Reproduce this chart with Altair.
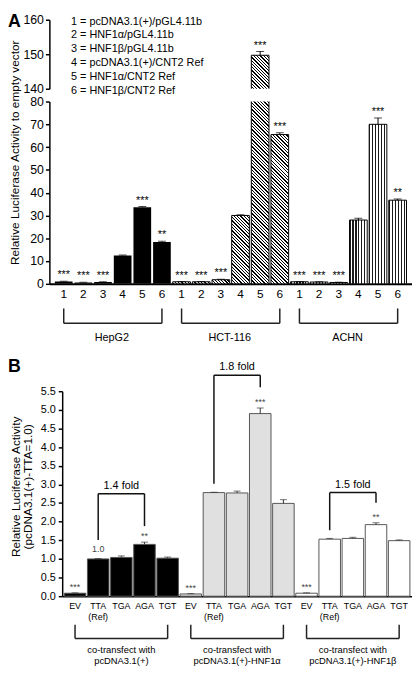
import altair as alt
import pandas as pd

FONT = "Liberation Sans"

# ---------------- Panel A values ----------------
cell_lines = ["HepG2", "HCT-116", "ACHN"]
constructs = ["1", "2", "3", "4", "5", "6"]
hepg2_vals = [1.0, 0.6, 0.8, 12.4, 33.6, 18.4]
hepg2_errs = [0.1, 0.1, 0.1, 0.2, 0.3, 0.3]
hepg2_sig = ["***", "***", "***", "", "***", "**"]
hct116_vals = [0.9, 0.9, 1.8, 30.0, 149.7, 65.5]
hct116_errs = [0.1, 0.1, 0.2, 0.3, 1.1, 0.8]
hct116_sig = ["***", "***", "***", "", "***", "***"]
achn_vals = [0.9, 0.8, 0.6, 28.0, 70.0, 36.7]
achn_errs = [0.1, 0.1, 0.1, 0.8, 2.8, 0.5]
achn_sig = ["***", "***", "***", "", "***", "**"]
legend_lines = [
    "1 = pcDNA3.1(+)/pGL4.11b",
    "2 = HNF1\u03b1/pGL4.11b",
    "3 = HNF1\u03b2/pGL4.11b",
    "4 = pcDNA3.1(+)/CNT2 Ref",
    "5 = HNF1\u03b1/CNT2 Ref",
    "6 = HNF1\u03b2/CNT2 Ref",
]
y_title_A = "Relative Luciferase Activity to empty vector"
upper_domain = [140, 160]
upper_ticks = [140, 150, 160]
lower_domain = [0, 80]
lower_ticks = [0, 10, 20, 30, 40, 50, 60, 70, 80]

# ---------------- Panel B values ----------------
transfections = ["pcDNA3.1(+)", "pcDNA3.1(+)-HNF1\u03b1", "pcDNA3.1(+)-HNF1\u03b2"]
codon_labels = ["EV", "TTA|(Ref)", "TGA", "AGA", "TGT"]
b_empty_vals = [0.08, 1.00, 1.04, 1.39, 1.02]
b_empty_errs = [0.01, 0.01, 0.04, 0.06, 0.03]
b_empty_sig = ["***", "", "", "**", ""]
b_empty_note = ["", "1.0", "", "", ""]
b_hnf1a_vals = [0.06, 2.78, 2.77, 4.90, 2.49]
b_hnf1a_errs = [0.01, 0.01, 0.05, 0.15, 0.10]
b_hnf1a_sig = ["***", "", "", "***", ""]
b_hnf1b_vals = [0.08, 1.53, 1.55, 1.92, 1.49]
b_hnf1b_errs = [0.01, 0.02, 0.03, 0.05, 0.02]
b_hnf1b_sig = ["***", "", "", "**", ""]
b_fills = ["black", "#e0e0e0", "white"]
b_ticks = [0.0, 0.5, 1.0, 1.5, 2.0, 2.5, 3.0, 3.5, 4.0, 4.5, 5.0, 5.5]
b_domain = [0, 5.5]
y_title_B = ["Relative Luciferase Activity", "(pcDNA3.1(+)-TTA=1.0)"]
fold_labels = ["1.4 fold", "1.8 fold", "1.5 fold"]
fold_top = [2.75, 5.93, 2.78]
fold_left_bottom = [1.51, 3.02, 1.77]
fold_right_bottom = [1.88, 5.61, 2.51]

# ---------------- layout (sizes / styles only) ----------------
W = 368
H_UP, H_LO, GAP = 70, 185, 13
B_TOP, H_B = 96, 304
PI_A, PO_A = 0.1, 0.28
stepA = W / (18 - PI_A + 2 * PO_A)
bwA = stepA * (1 - PI_A)
PPU_UP = H_UP / (upper_domain[1] - upper_domain[0])
PPU_LO = H_LO / (lower_domain[1] - lower_domain[0])


def stripe_stops(n, frac, ink="black", paper="white"):
    stops = []
    for k in range(n):
        a, b, c = k / n, (k + frac) / n, (k + 1) / n
        stops += [
            {"offset": round(a, 5), "color": ink},
            {"offset": round(b, 5), "color": ink},
            {"offset": round(b, 5), "color": paper},
            {"offset": round(min(c, 1.0), 5), "color": paper},
        ]
    return stops


def vstripes():
    return {"gradient": "linear", "x1": 0, "y1": 0, "x2": 1, "y2": 0,
            "stops": stripe_stops(6, 0.38, ink="#1a1a1a")}


def diag_fill(w, h, period=3.4, frac=0.4):
    n = max(1, round((w + h) / period))
    s = (w + h) / (w * w + h * h)
    return {"gradient": "linear",
            "x1": round(0.5 - s * w / 2, 5), "y1": round(0.5 + s * h / 2, 5),
            "x2": round(0.5 + s * w / 2, 5), "y2": round(0.5 - s * h / 2, 5),
            "stops": stripe_stops(n, frac)}


def one_row():
    return alt.Chart(pd.DataFrame({"t": [0]}))


# ---------------- Panel A table ----------------
rowsA = []
for line, vals, errs, sigs in zip(cell_lines,
                                  [hepg2_vals, hct116_vals, achn_vals],
                                  [hepg2_errs, hct116_errs, achn_errs],
                                  [hepg2_sig, hct116_sig, achn_sig]):
    for c, v, e, s in zip(constructs, vals, errs, sigs):
        rowsA.append(dict(key=f"{line}|{c}", line=line, value=v, top=v + e, sig=s))
dfA = pd.DataFrame(rowsA)
keysA = list(dfA["key"])

xscaleA = alt.Scale(domain=keysA, paddingInner=PI_A, paddingOuter=PO_A)
axis_xA = alt.Axis(labelExpr="split(datum.value, '|')[1]", labelAngle=0, ticks=False,
                   domainWidth=2, domainColor="black", labelFontSize=12, labelPadding=5,
                   labelColor="black", title=None)


def xA(show_axis=True):
    return alt.X("key:N", scale=xscaleA, axis=axis_xA if show_axis else None)


axis_up = alt.Axis(values=upper_ticks, title=None, grid=False, tickSize=4, tickWidth=1.5,
                   tickColor="black", domainWidth=1.5, domainColor="black",
                   labelFontSize=12.5, labelPadding=2, labelColor="black",
                   labelFlush=False, labelOverlap=False)
axis_lo = alt.Axis(values=lower_ticks, title=None,
                   grid=False, tickSize=4, tickWidth=1.5, tickColor="black",
                   domainWidth=1.5, domainColor="black", labelFontSize=12.5,
                   labelPadding=2, labelColor="black", labelFlush=False,
                   labelOverlap=False)


def yup(field):
    return alt.Y(f"{field}:Q", scale=alt.Scale(domain=upper_domain, nice=False, zero=False),
                 axis=axis_up)


def ylo(field):
    return alt.Y(f"{field}:Q", scale=alt.Scale(domain=lower_domain, nice=False),
                 axis=axis_lo)


baseA = alt.Chart(dfA)

# ---- upper broken segment ----
big = baseA.transform_filter(alt.datum.value > upper_domain[0])
upper_layers = []
for r in dfA[dfA["value"] > upper_domain[0]].itertuples():
    h = (r.value - 130) * PPU_UP
    upper_layers.append(
        baseA.transform_filter(alt.datum.key == r.key)
        .mark_bar(fill=diag_fill(bwA, h), stroke="black", strokeWidth=1, clip=True)
        .encode(x=xA(False), y=yup("value"), y2=alt.datum(130))
    )
upper_layers += [
    big.mark_rule(color="black", strokeWidth=1, clip=True).encode(
        x=xA(False), y=yup("value"), y2="top:Q"),
    big.mark_tick(color="black", thickness=1, size=8, clip=True).encode(
        x=xA(False), y=yup("top")),
    big.mark_text(baseline="bottom", dy=-1, fontSize=11, color="black").encode(
        x=xA(False), y=yup("top"), text="sig:N"),
    one_row().mark_text(
        text=legend_lines, align="left", baseline="top", fontSize=11, lineHeight=14,
        color="black").encode(x=alt.value(22), y=alt.value(-4)),
    one_row().mark_text(
        text="A", align="left", baseline="top", fontSize=18, fontWeight="bold",
        color="black").encode(x=alt.value(-42), y=alt.value(-7)),
]
upper = alt.layer(*upper_layers).properties(width=W, height=H_UP)

# ---- lower segment ----
low = baseA.transform_filter(alt.datum.value <= lower_domain[1])
lower_layers = [
    baseA.transform_filter(alt.datum.line == "HepG2")
    .mark_bar(color="black", clip=True).encode(x=xA(), y=ylo("value")),
    baseA.transform_filter(alt.datum.line == "ACHN")
    .mark_bar(fill=vstripes(), stroke="black", strokeWidth=1, clip=True)
    .encode(x=xA(), y=ylo("value")),
]
for r in dfA[dfA["line"] == "HCT-116"].itertuples():
    h = r.value * PPU_LO
    lower_layers.append(
        baseA.transform_filter(alt.datum.key == r.key)
        .mark_bar(fill=diag_fill(bwA, h), stroke="black", strokeWidth=1, clip=True)
        .encode(x=xA(), y=ylo("value"))
    )
lower_layers += [
    low.mark_rule(color="black", strokeWidth=1, clip=True).encode(
        x=xA(), y=ylo("value"), y2="top:Q"),
    low.mark_tick(color="black", thickness=1, size=8, clip=True).encode(
        x=xA(), y=ylo("top")),
    low.mark_text(baseline="bottom", dy=-1, fontSize=11, color="black").encode(
        x=xA(), y=ylo("top"), text="sig:N"),
    one_row().mark_text(text=y_title_A, angle=270, align="center", baseline="middle",
                        fontSize=12, color="black").encode(
        x=alt.value(-35), y=alt.value(52)),
]

# group brackets under panel A
legsA = pd.DataFrame({"key": [f"{l}|{c}" for l in cell_lines for c in (constructs[0], constructs[-1])]})
hA = pd.DataFrame({"key": [f"{l}|{constructs[0]}" for l in cell_lines],
                   "key2": [f"{l}|{constructs[-1]}" for l in cell_lines]})
tA = pd.DataFrame({"key": [f"{l}|{constructs[2]}" for l in cell_lines], "label": cell_lines})
lower_layers += [
    alt.Chart(legsA).mark_rule(color="#222", strokeWidth=1.5).encode(
        x=xA(), y=alt.value(H_LO + 25), y2=alt.value(H_LO + 40)),
    alt.Chart(hA).mark_rule(color="#222", strokeWidth=1.5).encode(
        x=xA(), x2="key2:N", y=alt.value(H_LO + 40)),
    alt.Chart(tA).mark_text(fontSize=11, baseline="middle", color="black").encode(
        x=alt.X("key:N", scale=xscaleA, axis=axis_xA, bandPosition=1),
        y=alt.value(H_LO + 55), text="label:N"),
]
lower = alt.layer(*lower_layers).properties(width=W, height=H_LO)

# ---------------- Panel B ----------------
rowsB = []
for gi, (t, vals, errs, sigs) in enumerate(zip(
        transfections,
        [b_empty_vals, b_hnf1a_vals, b_hnf1b_vals],
        [b_empty_errs, b_hnf1a_errs, b_hnf1b_errs],
        [b_empty_sig, b_hnf1a_sig, b_hnf1b_sig])):
    notes = b_empty_note if gi == 0 else [""] * 5
    for lab, v, e, s, n in zip(codon_labels, vals, errs, sigs, notes):
        rowsB.append(dict(key=f"g{gi}|{lab}", group=t, value=v, top=v + e, sig=s, note=n))
dfB = pd.DataFrame(rowsB)
keysB = list(dfB["key"])

xscaleB = alt.Scale(domain=keysB, range=[13, W], paddingInner=0.07, paddingOuter=0.09)
axis_xB = alt.Axis(labelExpr="slice(split(datum.value, '|'), 1)", labelAngle=0, ticks=False,
                   domainWidth=1.5, domainColor="black", labelFontSize=9, labelPadding=6,
                   labelLineHeight=11, labelColor="black", title=None)
axis_yB = alt.Axis(values=b_ticks, format=".1f", offset=-13, grid=False, tickSize=4,
                   tickWidth=1.5, tickColor="black", domainWidth=1.5, domainColor="black",
                   labelFontSize=11, labelPadding=3, labelColor="black", labelFlush=False,
                   labelOverlap=False, title=None)
yscaleB = alt.Scale(domain=b_domain, range=[H_B, B_TOP], nice=False)


def xB():
    return alt.X("key:N", scale=xscaleB, axis=axis_xB)


def yB(field):
    return alt.Y(f"{field}:Q", scale=yscaleB, axis=axis_yB)


baseB = alt.Chart(dfB)
b_layers = [
    baseB.mark_bar(stroke="#555", strokeWidth=1).encode(
        x=xB(), y=yB("value"),
        fill=alt.Fill("group:N", scale=alt.Scale(domain=transfections, range=b_fills),
                      legend=None)),
    baseB.mark_rule(color="#333", strokeWidth=1).encode(x=xB(), y=yB("value"), y2="top:Q"),
    baseB.mark_tick(color="#333", thickness=1, size=7).encode(x=xB(), y=yB("top")),
    baseB.mark_text(baseline="bottom", dy=-1, fontSize=9, color="#444").encode(
        x=xB(), y=yB("top"), text="sig:N"),
    baseB.mark_text(baseline="bottom", dy=-5, fontSize=9, color="#444").encode(
        x=xB(), y=yB("top"), text="note:N"),
    one_row().mark_text(text=y_title_B, angle=270, align="center", baseline="middle",
                        fontSize=12, lineHeight=12, color="black").encode(
        x=alt.value(-34), y=alt.value(193)),
]

tta_keys = [f"g{i}|{codon_labels[1]}" for i in range(3)]
aga_keys = [f"g{i}|{codon_labels[3]}" for i in range(3)]
tga_keys = [f"g{i}|{codon_labels[2]}" for i in range(3)]
fold_legs = pd.DataFrame({"key": tta_keys + aga_keys, "y": fold_top + fold_top,
                          "y2": fold_left_bottom + fold_right_bottom})
fold_h = pd.DataFrame({"key": tta_keys, "key2": aga_keys, "y": fold_top})
fold_t = pd.DataFrame({"key": tga_keys, "y": fold_top, "label": fold_labels})
b_layers += [
    alt.Chart(fold_legs).mark_rule(color="#111", strokeWidth=1.5).encode(
        x=xB(), y=yB("y"), y2="y2:Q"),
    alt.Chart(fold_h).mark_rule(color="#111", strokeWidth=1.5).encode(
        x=xB(), x2="key2:N", y=yB("y")),
    alt.Chart(fold_t).mark_text(baseline="bottom", dy=-3, fontSize=11, color="black").encode(
        x=xB(), y=yB("y"), text="label:N"),
]

ev_keys = [f"g{i}|{codon_labels[0]}" for i in range(3)]
tgt_keys = [f"g{i}|{codon_labels[4]}" for i in range(3)]
grp_legs = pd.DataFrame({"key": ev_keys + tgt_keys})
grp_h = pd.DataFrame({"key": ev_keys, "key2": tgt_keys})
grp_t = pd.DataFrame({"key": tga_keys,
                      "label": ["co-transfect with\n" + t for t in transfections]})
b_layers += [
    alt.Chart(grp_legs).mark_rule(color="#222", strokeWidth=1.5).encode(
        x=xB(), y=alt.value(H_B + 29), y2=alt.value(H_B + 43)),
    alt.Chart(grp_h).mark_rule(color="#222", strokeWidth=1.5).encode(
        x=xB(), x2="key2:N", y=alt.value(H_B + 43)),
    alt.Chart(grp_t).mark_text(fontSize=9.5, baseline="top", lineBreak="\n", lineHeight=11,
                               color="black").encode(
        x=xB(), y=alt.value(H_B + 50), text="label:N"),
    one_row().mark_text(
        text="B", align="left", baseline="top", fontSize=18, fontWeight="bold",
        color="black").encode(x=alt.value(-42), y=alt.value(62)),
]
chartB = alt.layer(*b_layers).properties(width=W, height=H_B)

chart = (
    alt.vconcat(upper, lower, chartB, spacing=GAP, bounds="flush")
    .properties(padding=0)
    .configure(font=FONT)
    .configure_view(strokeWidth=0)
)
chart.save("out.html", embed_options={"renderer": "svg", "actions": False})
